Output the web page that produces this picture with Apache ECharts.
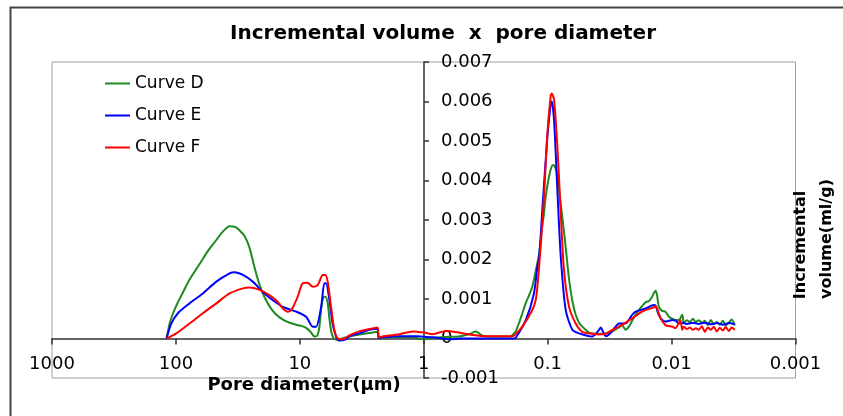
<!DOCTYPE html>
<html>
<head>
<meta charset="utf-8">
<script src="https://cdn.jsdelivr.net/npm/echarts@6/dist/echarts.min.js"></script>
<style>html,body{margin:0;padding:0;background:#fff}#c{width:843px;height:416px}</style>
</head>
<body>
<div id="c"></div>
<script>
const titleText = 'Incremental volume  x  pore diameter';
const xName = 'Pore diameter(\u03bcm)';
const yNameLines = ['Incremental', 'volume(ml/g)'];
const seriesNames = ['Curve D', 'Curve E', 'Curve F'];
const xTickLabels = ['0.001', '0.01', '0.1', '1', '10', '100', '1000'];
const yTickLabels = ['-0.001', '0', '0.001', '0.002', '0.003', '0.004', '0.005', '0.006', '0.007'];

// [pore diameter (um), incremental volume (ml/g)]
const curveD = [[119,0],[112,0.0004],[106,0.00062],[97,0.0009],[88,0.00116],[78,0.00148],[64,0.0019],[55.6,0.0022],[47,0.0025],[42,0.0027],[37,0.00284],[33,0.00282],[30.7,0.00274],[28,0.0026],[25.5,0.0023],[23.2,0.0018],[21.1,0.00135],[19.3,0.00105],[17.6,0.00082],[15.7,0.00062],[13.7,0.00048],[12.1,0.0004],[10.7,0.00035],[9.7,0.00032],[8.9,0.00027],[8.2,0.00017],[7.6,0.00005],[7.2,0.00008],[6.95,0.0003],[6.7,0.0008],[6.46,0.00104],[6.22,0.00106],[5.96,0.0009],[5.77,0.0005],[5.56,0.00015],[5.36,0.00002],[5.1,-0.00003],[4.8,-0.00002],[4.37,0.00002],[3.98,0.00005],[3.31,0.0001],[2.75,0.00014],[2.36,0.00017],[2.31,0.00002],[2.15,0.00003],[1.57,0.00004],[1.23,0.00003],[1.0,-0.00002],[0.85,0.00002],[0.66,0.00004],[0.52,0.00005],[0.42,0.00012],[0.38,0.00018],[0.34,0.00008],[0.3,0.00005],[0.25,0.00005],[0.2,0.00005],[0.19,0.0001],[0.18,0.0002],[0.17,0.0004],[0.16,0.00064],[0.15,0.0009],[0.141,0.0011],[0.133,0.00131],[0.125,0.0017],[0.117,0.00216],[0.11,0.0029],[0.107,0.00317],[0.1036,0.0036],[0.0975,0.0041],[0.0935,0.00433],[0.0904,0.00439],[0.0861,0.0043],[0.0835,0.0041],[0.0784,0.0034],[0.0738,0.0027],[0.0715,0.0023],[0.0672,0.0015],[0.0632,0.00095],[0.0594,0.0006],[0.0558,0.0004],[0.0525,0.0003],[0.0493,0.00022],[0.0464,0.00015],[0.041,0.00012],[0.0385,0.00012],[0.034,0.00013],[0.03,0.00018],[0.0266,0.00028],[0.0251,0.00034],[0.0235,0.00022],[0.0221,0.0003],[0.0208,0.00045],[0.0195,0.0006],[0.0184,0.00072],[0.0162,0.00092],[0.0152,0.00095],[0.0144,0.00105],[0.0139,0.00115],[0.01346,0.00121],[0.0131,0.0011],[0.01266,0.0008],[0.0119,0.0007],[0.0112,0.00068],[0.0105,0.00055],[0.0099,0.0005],[0.0093,0.00047],[0.0087,0.00047],[0.0082,0.0006],[0.00796,0.0004],[0.00753,0.00046],[0.00712,0.00042],[0.00673,0.0005],[0.00637,0.00042],[0.00603,0.00046],[0.0057,0.0004],[0.00539,0.00045],[0.0051,0.00034],[0.00482,0.00047],[0.00456,0.00036],[0.00432,0.00042],[0.00408,0.00035],[0.00386,0.00045],[0.00366,0.00033],[0.00345,0.0004],[0.00327,0.00048],[0.00309,0.00033]];

const curveE = [[119,0],[109,0.00038],[96.4,0.00064],[77.6,0.00089],[60.6,0.00114],[47.2,0.00144],[36.9,0.00165],[33.7,0.00168],[28.8,0.00161],[24,0.00144],[19.9,0.00118],[16.5,0.00097],[13.7,0.0008],[10.7,0.00068],[8.9,0.00055],[7.87,0.0003],[7.39,0.0003],[6.73,0.0008],[6.34,0.0014],[6.15,0.0014],[5.77,0.00097],[5.44,0.00038],[5.1,0.00005],[4.8,-0.00005],[4.24,-0.00002],[3.98,0.00006],[3.31,0.00013],[2.75,0.00022],[2.36,0.00025],[2.31,0.00001],[2.15,0.00003],[1.57,0.00006],[1.16,0.00006],[0.85,0.00003],[0.62,-0.00002],[0.5,0],[0.3,0],[0.19,0],[0.181,0.00002],[0.15,0.00047],[0.129,0.00114],[0.121,0.00182],[0.117,0.00207],[0.11,0.00334],[0.1005,0.00511],[0.0944,0.00595],[0.0927,0.006],[0.0888,0.00553],[0.0835,0.00376],[0.0784,0.00207],[0.0715,0.00072],[0.0632,0.00022],[0.0558,0.00013],[0.0436,0.00005],[0.0385,0.00022],[0.0373,0.00028],[0.0355,0.00015],[0.034,0.00006],[0.032,0.0001],[0.0283,0.0003],[0.0266,0.00038],[0.0235,0.00038],[0.0208,0.0006],[0.0195,0.00068],[0.0162,0.00076],[0.0139,0.00085],[0.01346,0.00083],[0.0127,0.0006],[0.0119,0.00047],[0.0112,0.00043],[0.0105,0.00045],[0.0099,0.00047],[0.0093,0.00045],[0.0087,0.00038],[0.0082,0.0004],[0.00753,0.00037],[0.00673,0.0004],[0.00603,0.00037],[0.00539,0.0004],[0.00482,0.00036],[0.00432,0.00039],[0.00386,0.00035],[0.00345,0.00039],[0.00309,0.00036]];

const curveF = [[119,0],[99.3,0.00013],[77.6,0.00038],[60.6,0.00064],[47.2,0.00089],[36.9,0.00114],[28.8,0.00127],[25.5,0.00129],[21.1,0.00123],[17.6,0.0011],[15.1,0.00093],[13.7,0.00076],[12.5,0.00068],[11.7,0.00072],[10.4,0.00106],[9.46,0.0014],[8.66,0.00141],[7.87,0.00131],[7.18,0.00135],[6.53,0.00161],[6.22,0.00161],[5.96,0.00144],[5.6,0.0008],[5.27,0.00022],[4.95,0],[4.5,-0.00002],[3.98,0.00008],[3.31,0.00018],[2.75,0.00024],[2.36,0.00028],[2.31,0.00003],[2.15,0.00005],[1.57,0.00011],[1.23,0.00018],[0.99,0.00015],[0.85,0.00011],[0.66,0.00019],[0.52,0.00015],[0.4,0.00009],[0.315,0.00006],[0.192,0.00006],[0.181,0.00011],[0.16,0.0003],[0.133,0.00072],[0.125,0.00097],[0.121,0.00131],[0.114,0.00232],[0.107,0.00359],[0.1005,0.0052],[0.0944,0.00616],[0.0927,0.0062],[0.0888,0.00604],[0.0835,0.00486],[0.0784,0.00317],[0.0738,0.00173],[0.0672,0.0008],[0.0594,0.00038],[0.0525,0.00017],[0.0436,0.00012],[0.0385,0.0001],[0.034,0.00012],[0.032,0.00017],[0.0266,0.0003],[0.0208,0.00051],[0.0173,0.00068],[0.0139,0.00079],[0.01346,0.00082],[0.0131,0.00076],[0.01227,0.00051],[0.0112,0.00034],[0.00989,0.0003],[0.0093,0.00026],[0.0085,0.00047],[0.0082,0.00022],[0.00796,0.0003],[0.00753,0.00024],[0.00712,0.00028],[0.00673,0.00022],[0.00637,0.00026],[0.00603,0.00022],[0.0057,0.00031],[0.00539,0.00017],[0.0051,0.00028],[0.00482,0.00022],[0.00456,0.0003],[0.00432,0.00018],[0.00408,0.00027],[0.00386,0.0002],[0.00366,0.00029],[0.00345,0.00019],[0.00327,0.00028],[0.00309,0.00022]];

const colors = ['#1f8a1f', '#0000ff', '#ff0000'];
const FONT = 'DejaVu Sans';

const chart = echarts.init(document.getElementById('c'), null, {renderer: 'canvas'});
const mk = (name, data, color) => ({
  name, type: 'line', data, symbol: 'none', smooth: 0.25,
  lineStyle: {color, width: 2}, itemStyle: {color}, animation: false
});
const vText = (text, x, y) => ({
  type: 'text', x, y, rotation: Math.PI / 2,
  style: {text, fontFamily: FONT, fontWeight: 'bold', fontSize: 16, fill: '#000',
    align: 'center', verticalAlign: 'middle', textAlign: 'center', textVerticalAlign: 'middle'}
});
chart.setOption({
  backgroundColor: '#fff',
  animation: false,
  title: {
    text: titleText, left: 225, top: 19,
    textStyle: {fontFamily: FONT, fontWeight: 'bold', fontSize: 20, color: '#000'}
  },
  legend: {
    orient: 'vertical', left: 100, top: 70, icon: 'rect', itemWidth: 25, itemHeight: 2, itemGap: 15,
    textStyle: {fontFamily: FONT, fontSize: 17, color: '#000'},
    data: seriesNames
  },
  grid: {left: 52, right: 47.5, top: 62, bottom: 38, show: true, borderColor: '#a0a0a0', borderWidth: 1,
    backgroundColor: 'transparent', outerBoundsMode: 'none', containLabel: false},
  xAxis: {
    type: 'log', logBase: 10, min: 0.001, max: 1000, inverse: true,
    position: 'bottom', offset: -39.5,
    axisLine: {onZero: false, lineStyle: {color: '#333', width: 1.5}},
    axisTick: {show: true, length: 6, lineStyle: {color: '#333', width: 1.5}},
    minorTick: {show: false},
    splitLine: {show: false},
    axisLabel: {
      margin: 17, fontFamily: FONT, fontSize: 18, color: '#000', showMinLabel: true, showMaxLabel: true,
      formatter: v => xTickLabels[Math.round(Math.log10(v)) + 3]
    }
  },
  yAxis: {
    type: 'value', min: -0.001, max: 0.007, interval: 0.001, position: 'left', offset: -372,
    axisLine: {show: true, onZero: false, lineStyle: {color: '#333', width: 1.5}},
    axisTick: {show: true, inside: true, length: 5, lineStyle: {color: '#333', width: 1.5}},
    splitLine: {show: false},
    axisLabel: {
      inside: true, margin: 17, fontFamily: FONT, fontSize: 18, color: '#000', showMinLabel: true, showMaxLabel: true,
      formatter: v => yTickLabels[Math.round(v / 0.001) + 1]
    }
  },
  graphic: [
    {type: 'rect', left: 8, top: 5, shape: {x: 0, y: 0, width: 900, height: 500}, style: {fill: 'none', stroke: '#444', lineWidth: 2}, silent: true, z: -10},
    {type: 'text', x: 304, y: 385, style: {text: xName, fontFamily: FONT, fontWeight: 'bold', fontSize: 18, fill: '#000', textAlign: 'center', textVerticalAlign: 'middle'}},
    vText(yNameLines[0], 801, 245),
    vText(yNameLines[1], 827, 239)
  ],
  series: [mk(seriesNames[0], curveD, colors[0]), mk(seriesNames[1], curveE, colors[1]), mk(seriesNames[2], curveF, colors[2])]
});
</script>
</body>
</html>
